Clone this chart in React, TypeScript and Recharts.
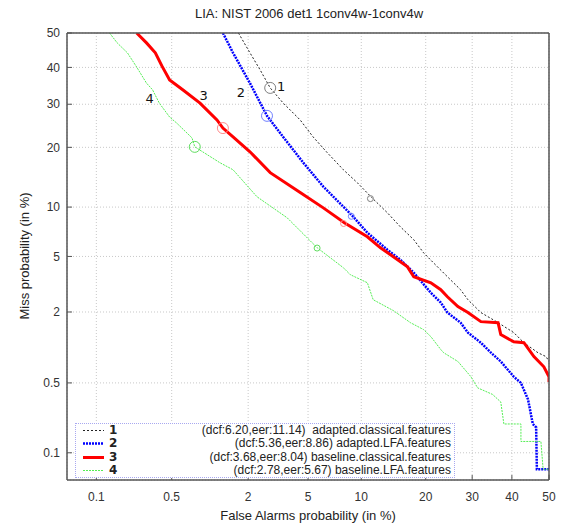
import React from 'react';
import { LineChart, Line, XAxis, YAxis, CartesianGrid, ReferenceDot, Legend } from 'recharts';

const FONT = '"Liberation Sans", Arial, Helvetica, sans-serif';
const NUM_FONT = '"DejaVu Sans", "Liberation Sans", sans-serif';

const title = 'LIA: NIST 2006 det1 1conv4w-1conv4w';
const xLabel = 'False Alarms probability (in %)';
const yLabel = 'Miss probability (in %)';

const axisMinPct = 0.05;
const axisMaxPct = 50;
const xTickLabels = ['0.1', '0.5', '2', '5', '10', '20', '30', '40', '50'];
const yTickLabels = ['0.1', '0.5', '2', '5', '10', '20', '30', '40', '50'];

const seriesIds = ['1', '2', '3', '4'];
const seriesNames = [
  'adapted.classical.features',
  'adapted.LFA.features',
  'baseline.classical.features',
  'baseline.LFA.features',
];
const seriesColors = ['#222222', '#0000ff', '#ff0000', '#55ee55'];
const circleColors = ['#808080', '#7080ff', '#ff8a8a', '#60dd60'];
const dcfValues = [6.2, 5.36, 3.68, 2.78];
const eerValues = [11.14, 8.86, 8.04, 5.67];

// min-DCF operating points (false alarm %, miss %)
const dcfFa = [2.85, 2.71, 1.3, 0.78];
const dcfMiss = [34.3, 27.1, 24.2, 20.1];

// curve label anchors (false alarm %, miss %)
const labelFa = [3.37, 1.77, 0.92, 0.32];
const labelMiss = [34.6, 33.0, 32.2, 31.4];

// Curve 1: adapted.classical.features
const faAdaptedClassical = [1.7, 2.06, 2.43, 2.85, 3.48, 4.47, 5.37, 6.51, 8.02, 9.55, 11.3, 13.5, 15.5, 17.8, 19.6, 21.5, 24.4, 27.3, 29.0, 32.1, 36.4, 40.5, 43.2, 47.0, 49.2, 50];
const missAdaptedClassical = [50, 44.2, 39.3, 34.3, 30.3, 26.1, 22.2, 18.9, 15.7, 13.5, 11.3, 9.28, 7.69, 6.4, 5.28, 4.54, 3.64, 2.94, 2.48, 1.98, 1.65, 1.37, 1.13, 0.93, 0.86, 0.78];

// Curve 2: adapted.LFA.features
const faAdaptedLFA = [1.3, 1.55, 2.06, 2.71, 3.48, 4.67, 6.17, 8.98, 10.75, 13.5, 15.5, 17.8, 21.0, 23.0, 24.4, 27.3, 29.0, 32.1, 34.6, 37.1, 40.5, 42.4, 44.3, 45.6, 46.5, 46.7, 50];
const missAdaptedLFA = [50, 44.2, 35.6, 27.1, 22.2, 17.0, 12.9, 8.92, 7.07, 5.53, 4.76, 3.88, 2.79, 2.36, 1.98, 1.65, 1.37, 1.13, 0.93, 0.78, 0.57, 0.5, 0.35, 0.2, 0.185, 0.066, 0.066];

// Curve 3: baseline.classical.features
const faBaselineClassical = [0.244, 0.3, 0.36, 0.41, 0.48, 0.62, 0.86, 1.17, 1.3, 1.55, 2.06, 2.85, 4.47, 6.17, 8.12, 10.75, 12.5, 14.4, 16.7, 17.8, 21.0, 23.0, 24.4, 26.7, 29.0, 32.1, 36.4, 37.1, 40.5, 43.2, 45.9, 48.6, 50, 50];
const missBaselineClassical = [50, 47.1, 44.2, 40.5, 36.5, 33.8, 30.3, 26.1, 24.2, 22.2, 19.1, 15.2, 12.0, 9.9, 8.12, 6.68, 5.69, 4.98, 4.26, 3.64, 3.3, 2.94, 2.61, 2.2, 1.98, 1.68, 1.65, 1.32, 1.15, 1.13, 0.86, 0.7, 0.57, 0.51];

// Curve 4: baseline.LFA.features
const faBaselineLFA = [0.135, 0.16, 0.2, 0.244, 0.3, 0.34, 0.39, 0.48, 0.55, 0.74, 0.78, 1.23, 1.55, 2.31, 3.69, 5.68, 8.02, 8.75, 10.75, 11.5, 14.4, 17.2, 19.6, 21.0, 23.0, 23.6, 26.7, 29.7, 31.3, 35.0, 37.1, 37.9, 42.4, 42.4, 47.8, 48.4, 50];
const missBaselineLFA = [50, 47.1, 44.2, 40.1, 35.6, 33.8, 30.3, 26.8, 25.4, 22.0, 20.1, 17.0, 15.7, 11.4, 8.69, 5.69, 4.2, 3.76, 3.3, 2.48, 2.05, 1.65, 1.45, 1.27, 0.99, 0.93, 0.78, 0.57, 0.45, 0.39, 0.33, 0.2, 0.2, 0.132, 0.132, 0.066, 0.066];

// Inverse standard normal CDF (Acklam)
function probit(p: number): number {
  const a = [-39.69683028665376, 220.9460984245205, -275.9285104469687, 138.357751867269, -30.66479806614716, 2.506628277459239];
  const b = [-54.47609879822406, 161.5858368580409, -155.6989798598866, 66.80131188771972, -13.28068155288572];
  const c = [-0.007784894002430293, -0.3223964580411365, -2.400758277161838, -2.549732539343734, 4.374664141464968, 2.938163982698783];
  const d = [0.007784695709041462, 0.3224671290700398, 2.445134137142996, 3.754408661907416];
  const plow = 0.02425;
  const phigh = 1 - plow;
  if (p < plow) {
    const q = Math.sqrt(-2 * Math.log(p));
    return (((((c[0] * q + c[1]) * q + c[2]) * q + c[3]) * q + c[4]) * q + c[5]) / ((((d[0] * q + d[1]) * q + d[2]) * q + d[3]) * q + 1);
  }
  if (p <= phigh) {
    const q = p - 0.5;
    const r = q * q;
    return ((((((a[0] * r + a[1]) * r + a[2]) * r + a[3]) * r + a[4]) * r + a[5]) * q) / (((((b[0] * r + b[1]) * r + b[2]) * r + b[3]) * r + b[4]) * r + 1);
  }
  const q = Math.sqrt(-2 * Math.log(1 - p));
  return -(((((c[0] * q + c[1]) * q + c[2]) * q + c[3]) * q + c[4]) * q + c[5]) / ((((d[0] * q + d[1]) * q + d[2]) * q + d[3]) * q + 1);
}

const pz = (pct: number) => probit(pct / 100);
const toPoints = (fa: number[], miss: number[]) => fa.map((f, i) => ({ x: pz(f), y: pz(miss[i]) }));

const seriesData = [
  toPoints(faAdaptedClassical, missAdaptedClassical),
  toPoints(faAdaptedLFA, missAdaptedLFA),
  toPoints(faBaselineClassical, missBaselineClassical),
  toPoints(faBaselineLFA, missBaselineLFA),
];

const seriesStyles = [
  { strokeWidth: 1, strokeDasharray: '2 2' },
  { strokeWidth: 2.5, strokeDasharray: '2 1' },
  { strokeWidth: 3, strokeDasharray: undefined },
  { strokeWidth: 1, strokeDasharray: '2 1' },
];

const domain: [number, number] = [pz(axisMinPct), pz(axisMaxPct)];
const xTicks = xTickLabels.map((l) => pz(parseFloat(l)));
const yTicks = yTickLabels.map((l) => pz(parseFloat(l)));

const makeFormatter = (ticks: number[], labels: string[]) => (v: number) => {
  let best = 0;
  ticks.forEach((t, i) => {
    if (Math.abs(t - v) < Math.abs(ticks[best] - v)) best = i;
  });
  return labels[best];
};

const FRAME = '#555555';
const tickStyle = { fontFamily: FONT, fontSize: 12, fill: '#333333' };

const legendText = (i: number) =>
  `(dcf:${dcfValues[i].toFixed(2)},eer:${eerValues[i].toFixed(2)})${eerValues[i] >= 10 ? '  ' : ' '}${seriesNames[i]}`;

const renderLegend = () => (
  <div
    style={{
      position: 'relative',
      width: 380,
      height: 55,
      boxSizing: 'border-box',
      border: '1px dotted #a8a8f0',
      background: '#ffffff',
      fontFamily: FONT,
      fontSize: 12,
      color: '#222222',
    }}
  >
    {seriesIds.map((id, i) => (
      <div key={id} style={{ position: 'absolute', left: 0, right: 0, top: i * 13.3, height: 13, lineHeight: '13px' }}>
        <svg style={{ position: 'absolute', left: 7, top: 0 }} width={22} height={13}>
          <line
            x1={0}
            y1={6.5}
            x2={21}
            y2={6.5}
            stroke={seriesColors[i]}
            strokeWidth={seriesStyles[i].strokeWidth}
            strokeDasharray={seriesStyles[i].strokeDasharray}
          />
        </svg>
        <span style={{ position: 'absolute', left: 33, fontFamily: NUM_FONT, fontWeight: 'bold', fontSize: 12, lineHeight: '13px' }}>{id}</span>
        <span style={{ position: 'absolute', right: 3, whiteSpace: 'pre', lineHeight: '13px' }}>{legendText(i)}</span>
      </div>
    ))}
  </div>
);

export default function App() {
  return (
    <div style={{ position: 'fixed', left: 0, top: 0, width: 564, height: 524, background: '#ffffff', fontFamily: FONT }}>
      <LineChart width={564} height={524} margin={{ top: 32, right: 14, bottom: 0, left: 0 }}>
        <CartesianGrid xAxisId="bottom" yAxisId="left" stroke="#c8c8c8" strokeDasharray="1 2" />
        <XAxis
          xAxisId="bottom"
          type="number"
          dataKey="x"
          domain={domain}
          ticks={xTicks}
          interval={0}
          allowDataOverflow
          height={44}
          tickSize={-5}
          tickMargin={17}
          tickFormatter={makeFormatter(xTicks, xTickLabels)}
          tick={tickStyle}
          axisLine={{ stroke: FRAME, strokeWidth: 1.5 }}
          tickLine={{ stroke: FRAME }}
        />
        <XAxis
          xAxisId="top"
          orientation="top"
          type="number"
          dataKey="x"
          domain={domain}
          ticks={xTicks}
          interval={0}
          allowDataOverflow
          height={1}
          tickSize={-5}
          tick={false}
          axisLine={{ stroke: FRAME, strokeWidth: 1.5 }}
          tickLine={{ stroke: FRAME }}
        />
        <YAxis
          yAxisId="left"
          type="number"
          dataKey="y"
          domain={domain}
          ticks={yTicks}
          interval={0}
          allowDataOverflow
          width={67}
          tickSize={-5}
          tickMargin={12}
          tickFormatter={makeFormatter(yTicks, yTickLabels)}
          tick={tickStyle}
          axisLine={{ stroke: FRAME, strokeWidth: 1.5 }}
          tickLine={{ stroke: FRAME }}
        />
        <YAxis
          yAxisId="right"
          orientation="right"
          type="number"
          dataKey="y"
          domain={domain}
          ticks={yTicks}
          interval={0}
          allowDataOverflow
          width={1}
          tickSize={-5}
          tick={false}
          axisLine={{ stroke: FRAME, strokeWidth: 1.5 }}
          tickLine={{ stroke: FRAME }}
        />
        {seriesData.map((d, i) => (
          <Line
            key={seriesIds[i]}
            xAxisId="bottom"
            yAxisId="left"
            data={d}
            dataKey="y"
            type="linear"
            stroke={seriesColors[i]}
            strokeWidth={seriesStyles[i].strokeWidth}
            strokeDasharray={seriesStyles[i].strokeDasharray}
            dot={false}
            activeDot={false}
            isAnimationActive={false}
          />
        ))}
        {seriesIds.map((id, i) => (
          <ReferenceDot
            key={'dcf' + id}
            xAxisId="bottom"
            yAxisId="left"
            x={pz(dcfFa[i])}
            y={pz(dcfMiss[i])}
            r={5.5}
            fill="none"
            stroke={circleColors[i]}
            strokeWidth={1}
          />
        ))}
        {seriesIds.map((id, i) => (
          <ReferenceDot
            key={'eer' + id}
            xAxisId="bottom"
            yAxisId="left"
            x={pz(eerValues[i])}
            y={pz(eerValues[i])}
            r={3}
            fill="none"
            stroke={circleColors[i]}
            strokeWidth={1}
          />
        ))}
        {seriesIds.map((id, i) => (
          <ReferenceDot
            key={'lbl' + id}
            xAxisId="bottom"
            yAxisId="left"
            x={pz(labelFa[i])}
            y={pz(labelMiss[i])}
            r={0}
            fill="none"
            stroke="none"
            label={{ value: id, position: 'center', fill: '#111111', fontSize: 13, fontFamily: NUM_FONT }}
          />
        ))}
        <Legend
          layout="vertical"
          align="center"
          verticalAlign="middle"
          content={renderLegend}
          wrapperStyle={{ left: 75, top: 423, width: 380, height: 55 }}
        />
        <text x={309} y={18} textAnchor="middle" fontFamily={FONT} fontSize={13} fill="#222222">
          {title}
        </text>
        <text x={308} y={520} textAnchor="middle" fontFamily={FONT} fontSize={13} fill="#222222">
          {xLabel}
        </text>
        <text x={28.5} y={256} textAnchor="middle" fontFamily={FONT} fontSize={13} fill="#222222" transform="rotate(-90, 28.5, 256)">
          {yLabel}
        </text>
      </LineChart>
    </div>
  );
}
